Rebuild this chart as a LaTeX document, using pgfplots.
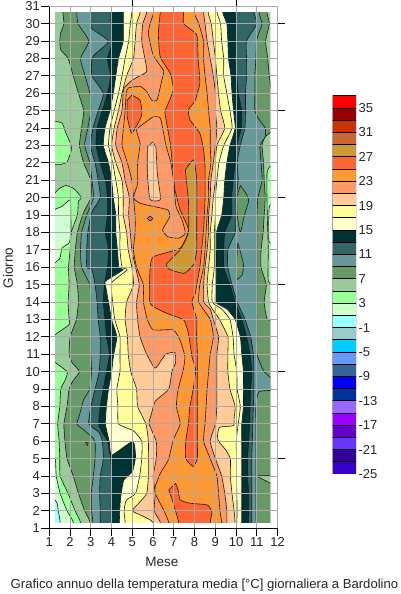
\documentclass[border=0pt]{standalone}
\usepackage{fontspec}
\setmainfont{Liberation Sans}
\usepackage{pgfplots}
\pgfplotsset{compat=1.18}
\definecolor{t37}{HTML}{FF0000}\definecolor{t35}{HTML}{990000}\definecolor{t33}{HTML}{CC3300}
\definecolor{t31}{HTML}{CC6633}\definecolor{t29}{HTML}{CC9933}\definecolor{t27}{HTML}{FF6633}
\definecolor{t25}{HTML}{FF9933}\definecolor{t23}{HTML}{FF9966}\definecolor{t21}{HTML}{FFCC99}
\definecolor{t19}{HTML}{FFFF99}\definecolor{t17}{HTML}{FFFFCC}\definecolor{t15}{HTML}{003333}
\definecolor{t13}{HTML}{336666}\definecolor{t11}{HTML}{669999}\definecolor{t9}{HTML}{669966}
\definecolor{t7}{HTML}{99CC99}\definecolor{t5}{HTML}{99FF99}\definecolor{t3}{HTML}{CCFFCC}
\definecolor{t1}{HTML}{99FFFF}\definecolor{tm1}{HTML}{99CCCC}\definecolor{tm3}{HTML}{00CCFF}
\definecolor{tm5}{HTML}{6699FF}\definecolor{tm7}{HTML}{336699}\definecolor{tm9}{HTML}{0000FF}
\definecolor{tm11}{HTML}{003399}\definecolor{tm13}{HTML}{9966FF}\definecolor{tm15}{HTML}{9900FF}
\definecolor{tm17}{HTML}{6600CC}\definecolor{tm19}{HTML}{6633FF}\definecolor{tm21}{HTML}{330099}
\definecolor{tm23}{HTML}{3300CC}
\definecolor{gridc}{HTML}{AAAAAA}
\newcommand\reg[2]{\addplot[smooth,tension=0.3,line join=round,fill=#1,draw=black!90,line width=0.6pt] coordinates {#2} --cycle;}
\newcommand\bx[3]{\addplot[fill=#1,draw=black,line width=0.8pt] coordinates {(0,#2)(1,#2)(1,#3)(0,#3)} --cycle;}
\begin{document}
\begin{tikzpicture}[x=1pt,y=1pt]
\useasboundingbox (0,0) rectangle (400,594);
% contour map
\begin{axis}[at={(55pt,71.3pt)},anchor=south west,scale only axis,width=215.4pt,height=510.5pt,
  xmin=1.27,xmax=11.65,ymin=1.32,ymax=30.66,hide axis]
\addplot[fill=t7,draw=none] coordinates {(0,0)(13,0)(13,32)(0,32)} --cycle;
% colder patches on the left and right edges
\reg{t5}{(1,24.43)(1.6,24.3)(1.8,23.7)(2.05,23)(2.05,22.7)(1.85,22.05)(1.5,21.9)(1,21.9)}
\reg{t5}{(1,19.9)(1.45,20.5)(1.8,20.7)(2.2,20.5)(2.55,20)(2.4,19.8)(2.35,19)(2.05,18)(2,17)(1.92,16)(1.95,15)(1.9,14)(1.95,13)(1.95,12.7)(1,11.9)}
\reg{t5}{(1,10.77)(1.85,10)(1.75,9.5)(1.55,9)(1.5,8)(1.4,7)(1.47,6)(1.5,5)(1.52,4)(1.9,3)(2.24,2)(2.5,1.32)(2.5,0)(1,0)}
\reg{t3}{(1,19.2)(1.6,19.5)(2,19.87)(2.03,19)(2.05,18)(1.95,17.4)(1.6,17.1)(1.5,16.5)(1,16)}
\reg{t3}{(1,5.5)(1.28,5)(1.33,4)(1.52,3)(1.85,2)(2.16,1.32)(2.16,0)(1,0)}
\reg{t1}{(1,3)(1.35,2.5)(1.43,2)(1.52,1.32)(1.52,0)(1,0)}
\reg{t5}{(12,22.3)(11.5,21.5)(11.5,19)(11.55,17)(11.55,15.2)(12,14.8)}
\reg{t3}{(12,20)(11.6,19.5)(11.58,17.5)(12,17)}
% >= 7
\reg{t9}{(1.65,32)(1.65,30.66)(1.7,30)(1.55,29.5)(1.5,29)(1.55,28.5)(1.9,28)(2.15,27)(2.4,26)(2.65,25)(2.55,24)(2.45,23)(2.65,22)(3,21)(3,20)(2.75,19.4)(2.6,19)(2.35,18)(2.25,17)(2.2,16)(2.35,15)(2.4,14)(2.3,13)(2,12)(1.95,11)(2.1,10.5)(2.45,10)(2.15,9.5)(1.95,9)(1.85,8)(1.7,7)(1.75,6)(1.85,5)(2.15,4)(2.4,3)(2.7,2)(2.97,1.32)(2.97,0)
(12,0)(12,3.2)(11.05,4)(12,4.5)(12,12.5)(11.5,13)(11.35,14)(11.45,15)(11.2,16)(11.2,17)(11.3,18)(11.35,19)(11.4,20)(11.35,21)(11.32,22)(11.25,23)(11.4,23.5)(12,24.2)(11.7,26)(11.6,27)(11.52,28)(11.42,29)(11.6,30)(11.48,30.66)(11.48,32)}
\reg{t7}{(2.75,5.95)(2.87,5.9)(2.82,5.75)}
% >= 9
\reg{t11}{(2.32,32)(2.32,30.66)(2.38,30)(2.9,29)(2.5,28)(2.72,27)(2.95,26)(3,25)(2.85,24)(2.7,23)(2.95,22)(3.05,21)(3.13,20)(2.8,19)(2.55,18)(2.5,17)(2.55,16)(2.95,15)(3,14)(3,13)(3,12)(3,11)(3.03,10)(2.95,9)(2.65,8.4)(2.45,7.5)(2.32,7)(2.6,6.7)(3,6.3)(3.2,6)(3.2,5)(3.12,4)(3.02,3)(3.03,2)(3.1,1.32)(3.1,0)
(10.96,0)(10.96,1.32)(10.95,2)(10.95,3)(10.95,4)(10.95,5)(10.95,6)(10.95,7)(10.95,8)(11.1,8.85)(12,8.95)(12,9.3)(11.35,10)(11,11)(11,12)(11,13)(11,14)(11,15)(11,16)(11,17)(11,18)(11,19)(11.05,20)(11.25,21)(11.2,22)(11.15,23)(11.4,23.5)(11.4,24)(11.1,24.5)(10.9,25)(10.9,26)(10.9,27)(10.95,28)(10.98,29)(11.1,29.5)(11.25,30)(11.1,30.66)(11.1,32)}
\reg{t9}{(10.2,20.7)(10.5,20.2)(10.6,19.8)(10.4,19)(10.2,18)(10.05,19)(10.02,20)}
\reg{t9}{(10.08,17.4)(10.35,16.2)(10.3,15.6)(10.05,15.3)(10,16)}
% >= 11
\reg{t13}{(2.98,32)(2.98,30.66)(3,30)(3.05,29.7)(3.85,29)(3.25,28.3)(3.05,28)(3.05,27)(3.6,26)(3.35,25)(3.1,24)(2.97,23)(3.2,22)(3.35,21)(3.45,20)(3.1,19.3)(3,19)(2.85,18)(2.8,17)(2.8,16)(3.05,15.85)(3.2,15)(3.3,14)(3.35,13)(3.45,12)(3.45,11)(3.4,10)(3.2,9)(3,8)(2.9,7)(3.4,6.5)(3.55,6)(3.6,5)(3.45,4)(3.42,3)(3.45,2)(3.45,1.32)(3.45,0)
(10.75,0)(10.75,1.32)(10.75,2)(10.75,3)(10.75,4)(10.75,5)(10.78,6)(10.8,7)(10.83,8)(10.85,9)(10.85,10)(10.83,11)(10.7,12)(10.43,13)(10.05,14)(9.8,15)(9.6,16)(9.6,17)(9.95,18)(10,19)(10,20)(10.1,21)(10.05,22)(10.2,23)(10.42,24)(10.45,25)(10.45,26)(10.5,27)(10.5,28)(10.5,29)(11,30)(10.85,30.66)(10.85,32)}
% >= 13
\reg{t15}{(3.97,32)(3.97,30.66)(3.97,30)(4.05,29)(3.8,28)(3.95,27)(3.8,26)(3.55,25)(3.3,24)(3.25,23)(3.45,22)(3.7,21)(3.8,20)(3.8,19)(3.7,18)(3.85,17)(3.8,16)(3.65,15)(3.6,14)(3.68,13)(3.75,12)(3.9,11)(3.75,10)(3.6,9)(3.45,8)(3.37,7)(3.55,6.5)(3.8,6)(3.95,5)(4,4)(3.98,3)(3.98,2)(3.98,1.32)(3.98,0)
(10.58,0)(10.58,1.32)(10.6,2)(10.6,3)(10.55,4)(10.55,5)(10.6,6)(10.65,7)(10.67,8)(10.7,9)(10.75,10)(10.67,11)(10.5,12)(10.27,13)(9.95,14)(9.7,15)(9.4,16)(9.4,17)(9.45,18)(9.78,19)(9.78,20)(9.85,21)(9.95,22)(10.03,23)(10.25,24)(10.27,25)(10.1,26)(10.03,27)(9.95,28)(10.03,29)(10,30)(9.95,30.66)(9.95,32)}
% >= 15
\reg{t17}{(4.56,32)(4.56,30.66)(4.56,30)(4.56,29)(4.33,28)(4.2,27)(4.08,26)(3.92,25)(3.68,24)(3.6,23)(3.85,22)(4,21)(4.08,20)(4.2,19)(4.2,18)(4.28,17)(4.35,16)(4.55,15.85)(3.7,15.2)(3.7,15)(3.85,14)(4,13)(4.25,12)(4.1,11)(4,10)(3.85,9)(3.75,8)(3.7,7)(3.9,5.9)(4,5.2)(5.02,6)(5.15,5.1)(5,4.25)(4.58,3.75)(4.42,2.6)(4.37,1.32)(4.37,0)
(10.27,0)(10.27,1.32)(10.27,5)(10.27,6)(10.27,7)(10.35,8)(10.35,9)(10.35,10)(10.27,11)(10.2,12)(9.95,13)(9.55,13.6)(9,14)(9.03,15)(9.05,16)(9.05,17)(9.05,18)(9.3,19)(9.4,20)(9.45,21)(9.55,22)(9.7,23)(9.95,24)(9.87,25)(9.8,26)(9.75,27)(9.63,28)(9.6,29)(9.55,30)(9.35,30.66)(9.35,32)}
% >= 17
\reg{t19}{(4.97,32)(4.97,30.66)(4.9,30)(4.82,29)(4.65,28)(4.5,27)(4.33,26)(4.12,25)(3.92,24)(3.85,23)(4.05,22)(4.2,21)(4.33,20)(4.33,19)(4.4,18)(4.4,17)(4.5,16)(4.75,15.85)(4,15.1)(4.05,14)(4.15,13)(4.4,12)(4.4,11)(4.4,10)(4.25,9)(4.3,8)(4.33,7)(5.05,6.6)(5.45,6)(5.45,5)(5.35,4)(5.15,3)(4.7,2.6)(4.6,2)(4.65,1.32)(4.65,0)
(10.03,0)(10.03,1.32)(10.05,2)(10.03,3)(10.02,4)(10.02,5)(10,6)(10.1,7)(10.2,8)(10.05,9)(10.03,10)(9.9,11)(9.85,12)(9.7,13)(9.3,13.6)(8.85,14)(8.85,15)(8.95,16)(8.95,17)(8.95,18)(9,19)(9,20)(9.07,21)(9.17,22)(9.4,23)(9.8,24)(9.7,25)(9.55,26)(9.4,27)(9.4,28)(9.3,29)(9.25,30)(9.08,30.66)(9.08,32)}
% >= 19
\reg{t21}{(5.37,32)(5.37,30.66)(5.2,30)(5.13,29)(5.05,28)(4.72,27)(4.5,26)(4.33,25)(4.12,24)(4,23)(4.2,22)(4.5,21)(4.56,20)(4.56,19)(4.72,18)(4.8,17)(4.97,16)(5.05,15)(4.72,14)(4.65,13)(4.76,12)(4.8,11)(4.92,10)(5.2,9)(5.25,8)(5.65,7)(5.77,6)(5.77,5)(5.77,4)(5.69,3)(5.35,2.5)(5,2)(5.5,1.7)(6,1.32)(6,0)
(9.95,0)(9.95,1.32)(9.9,2)(9.8,3)(9.72,4)(9.72,5)(9.5,5.5)(9.15,6)(9.1,6.3)(9.2,6.8)(9.87,6.9)(9.9,7.3)(9.95,8)(9.7,9)(9.6,10)(9.6,11)(9.6,12)(9.2,13)(8.85,13.6)(8.67,14)(8.6,15)(8.67,16)(8.75,17)(8.75,18)(8.83,19)(8.9,20)(9,21)(9,22)(9.07,23)(9.45,24)(9.25,25)(9.15,26)(9.07,27)(9,28)(8.9,29)(8.8,30)(8.65,30.66)(8.65,32)}
% >= 21
\reg{t23}{(5.69,32)(5.69,30.66)(5.5,30)(5.45,29)(5.6,28)(5.69,27.25)(5.2,26.9)(4.9,26.67)(4.6,26.3)(4.55,26)(4.5,25)(4.27,24)(4.2,23)(4.5,22)(4.65,21)(4.85,20)(4.82,19)(4.9,18)(4.97,17)(5.15,16)(5.33,15)(5.2,14)(5.25,13)(5.37,12)(5.69,11)(6.1,10.2)(6.6,11)(7.05,11.1)(7.08,10.5)(6.9,10)(6.75,9)(6.1,8.3)(5.9,7.5)(5.8,7)(6.15,6)(6.15,5)(6,4)(6.1,3)(6.05,2)(6.35,1.32)(6.35,0)
(9.55,0)(9.55,1.32)(9.55,2)(9.45,3)(9.3,4)(9,5)(8.75,6)(9,7)(9.07,8)(9.07,9)(9.07,10)(9.07,11)(9.15,12)(8.9,13)(8.75,13.6)(8.43,14)(8.43,15)(8.5,16)(8.6,17)(8.67,18)(8.67,19)(8.75,20)(8.78,21)(8.9,22)(9,23)(9.07,24)(9,25)(9,26)(8.9,27)(8.75,28)(8.6,29)(8.5,30)(8.43,30.66)(8.43,32)}
% >= 23
\reg{t25}{(6.02,32)(6.02,30.66)(5.85,30)(5.77,29.4)(6,28.2)(6.5,27.3)(6.42,26.75)(6.18,25.6)(5.93,25.6)(5.69,26.1)(5.37,26.4)(4.8,26.3)(4.7,26)(4.65,25)(4.57,24)(4.5,23)(4.76,22)(4.97,21)(5.05,20)(5.13,19)(5.13,18)(5.05,17)(5.2,16)(5.53,15)(5.53,14)(5.72,13)(6,12.4)(6.97,12.4)(7.3,11.8)(7.53,10.87)(7.45,10.1)(7.2,8.95)(7.12,8)(7.3,7)(6.97,6.08)(6.73,4.93)(6.35,4.16)(6.1,3.4)(6.1,3)(6.5,2.05)(6.75,1.32)(6.75,0)
(9.3,0)(9.3,1.32)(9.22,2)(9.15,3)(9.07,4)(8.75,5)(8.43,6)(8.5,7)(8.55,8)(8.6,9)(8.67,10)(8.75,11)(8.9,12)(8.75,13)(8.2,14)(8.25,15)(8.43,16)(8.5,17)(8.55,18)(8.6,19)(8.67,20)(8.67,21)(8.78,22)(8.75,23)(8.75,24)(8.67,25)(8.6,26)(8.5,27)(8.43,28)(8.43,29)(8.2,30)(7.97,30.66)(7.97,32)}
% cooler islands inside
\reg{t23}{(6,24.66)(6.35,24.56)(6.6,23.1)(6.85,22)(7,20.83)(7.1,19.5)(7.4,18.7)(7.55,17.95)(7.23,17.67)(6.7,17.76)(6.45,18.15)(6.8,18.9)(6.7,19.3)(6,19.5)(5.37,19.68)(5.05,20)(5.25,20.8)(5.25,22)(5.37,23.1)(5.2,23.9)(5.6,24.3)}
\reg{t21}{(5.97,23.2)(6.13,22.9)(6.2,21.4)(6.35,19.9)(5.85,19.9)(5.72,21.4)(5.72,22.9)}
% >= 25
\reg{t27}{(6.34,32)(6.34,30.66)(6.25,29.45)(6.34,28.1)(6.82,27.15)(6.97,26.2)(6.65,25.2)(6.57,24.85)(6.82,23.13)(6.97,21.4)(7.05,20.45)(7.3,19.3)(7.7,18.15)(7.3,17.1)(6,16.6)(5.85,15.85)(5.85,13.93)(6.65,13.36)(7.47,12.97)(7.7,12.2)(7.87,10.87)(8.05,10.1)(7.93,9)(7.77,8)(7.7,7)(7.57,6)(7.57,5)(7.93,4.55)(8.13,5)(8.13,6)(8.13,8)(8.13,10)(8.13,11)(8.1,12)(8.1,13)(7.87,14)(8.03,14.5)(8.1,15)(8.25,16)(8.43,18.15)(8.5,20)(8.5,21.8)(8.43,22.74)(8.25,23.7)(7.78,24.47)(7.7,25.04)(8.03,25.6)(8.25,26.6)(8.17,27.9)(8.1,29.35)(7.47,30)(7.47,30.66)(7.47,32)}
\reg{t27}{(7.08,3.59)(7.2,3.2)(7.3,2.63)(7.77,2.44)(8.6,2.34)(8.83,1.96)(8.75,1.32)(8.75,0)(7.23,0)(7.23,1.32)(6.92,2.63)(6.75,3.2)}
\reg{t27}{(4.97,25.9)(5.37,25.6)(5.45,24.75)(4.97,23.7)(4.75,24.66)(4.75,25.6)}
\reg{t27}{(5.72,18.8)(5.85,18.95)(5.98,18.8)(5.85,18.65)}
% >= 27
\reg{t29}{(7.55,21.6)(7.95,22.17)(8.1,21)(8.1,18)(8.1,17)(7.97,16.2)(7.5,15.65)(6.75,15.9)(6.65,16.2)(7.3,17)(7.7,18)(7.7,19.9)}
\end{axis}
% grid, left and bottom ticks
\begin{axis}[at={(49.3pt,65.7pt)},anchor=south west,scale only axis,width=228.2pt,height=522pt,
  xmin=1,xmax=12,ymin=1,ymax=31,axis x line*=bottom,axis y line*=left,
  xtick={1,...,12},ytick={1,...,31},grid=major,
  /pgf/number format/assume math mode=true,
  grid style={gridc,line width=0.9pt},axis line style={black,line width=0.9pt,-},
  tick style={black,line width=0.9pt},tick align=outside,major tick length=8pt,
  tick label style={font=\fontsize{13}{15}\selectfont,text=black!85},
  xticklabel style={yshift=2pt},yticklabel style={xshift=2pt}]
\end{axis}
% top and right ticks
\begin{axis}[at={(49.3pt,65.7pt)},anchor=south west,scale only axis,width=228.2pt,height=522pt,
  xmin=1,xmax=12,ymin=1,ymax=31,axis x line*=top,axis y line*=right,
  xtick={5,10},ytick={5,10,...,30},xticklabels={},yticklabels={},
  axis line style={gridc,line width=0.9pt,-},tick style={black,line width=0.9pt},
  tick align=outside,major tick length=7pt]
\end{axis}
% colour scale
\begin{axis}[at={(332.7pt,120pt)},anchor=south west,scale only axis,width=23.3pt,height=378.3pt,
  xmin=0,xmax=1,ymin=-25,ymax=37,axis y line*=right,axis x line=none,
  ytick={-25,-21,-17,-13,-9,-5,-1,3,7,11,15,19,23,27,31,35},
  yticklabels={-25,-21,-17,-13,-9,-5,-1,3,7,11,15,19,23,27,31,35},
  major tick length=0pt,axis line style={draw=none},
  tick label style={font=\fontsize{13}{15}\selectfont,text=black!85},yticklabel style={xshift=-1pt}]
\bx{tm23}{-25}{-23}\bx{tm21}{-23}{-21}\bx{tm19}{-21}{-19}\bx{tm17}{-19}{-17}
\bx{tm15}{-17}{-15}\bx{tm13}{-15}{-13}\bx{tm11}{-13}{-11}\bx{tm9}{-11}{-9}
\bx{tm7}{-9}{-7}\bx{tm5}{-7}{-5}\bx{tm3}{-5}{-3}\bx{tm1}{-3}{-1}
\bx{t1}{-1}{1}\bx{t3}{1}{3}\bx{t5}{3}{5}\bx{t7}{5}{7}\bx{t9}{7}{9}\bx{t11}{9}{11}
\bx{t13}{11}{13}\bx{t15}{13}{15}\bx{t17}{15}{17}\bx{t19}{17}{19}\bx{t21}{19}{21}
\bx{t23}{21}{23}\bx{t25}{23}{25}\bx{t27}{25}{27}\bx{t29}{27}{29}\bx{t31}{29}{31}
\bx{t33}{31}{33}\bx{t35}{33}{35}\bx{t37}{35}{37}
\end{axis}
\node[font=\fontsize{13.5}{15}\selectfont,text=black!85] at (162,32) {Mese};
\node[font=\fontsize{13.5}{15}\selectfont,text=black!85,rotate=90] at (8,326) {Giorno};
\node[font=\fontsize{13.1}{15}\selectfont,text=black!85] at (204.5,8.5) {Grafico annuo della temperatura media [°C] giornaliera a Bardolino};
\end{tikzpicture}
\end{document}
